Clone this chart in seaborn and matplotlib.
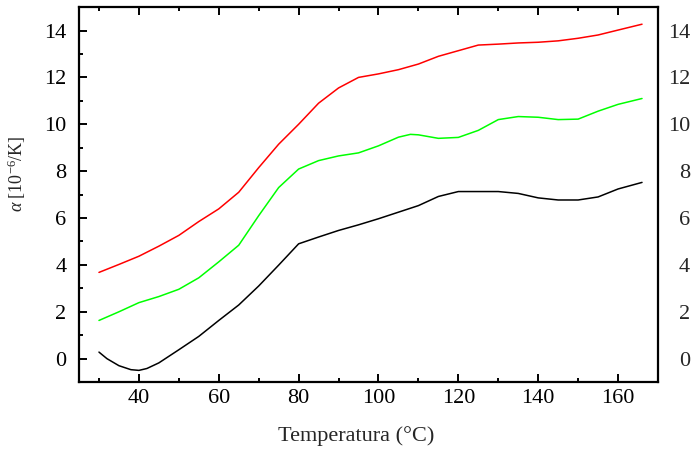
import matplotlib
matplotlib.use("Agg")
import matplotlib.pyplot as plt
import seaborn as sns
import numpy as np
import pandas as pd
from matplotlib.ticker import MultipleLocator

# ---- data ----
temp_red = [30, 35, 40, 45, 50, 55, 60, 65, 70, 75, 80, 85, 90, 95, 100, 105, 110,
            115, 120, 125, 130, 135, 140, 145, 150, 155, 160, 166]
alpha_red = [3.68, 4.02, 4.37, 4.80, 5.26, 5.85, 6.39, 7.10, 8.15, 9.15, 10.0, 10.9,
             11.55, 12.0, 12.15, 12.33, 12.57, 12.9, 13.14, 13.38, 13.42, 13.47, 13.5,
             13.56, 13.67, 13.81, 14.02, 14.27]

temp_green = [30, 35, 40, 45, 50, 55, 60, 65, 70, 75, 80, 85, 90, 95, 100, 105, 108,
              110, 115, 120, 125, 130, 135, 140, 145, 150, 155, 160, 166]
alpha_green = [1.63, 2.0, 2.39, 2.65, 2.96, 3.45, 4.13, 4.84, 6.1, 7.3, 8.09, 8.45,
               8.65, 8.78, 9.08, 9.45, 9.57, 9.55, 9.40, 9.44, 9.74, 10.2, 10.33, 10.3,
               10.2, 10.22, 10.56, 10.85, 11.1]

temp_black = [30, 32, 35, 38, 40, 42, 45, 50, 55, 60, 65, 70, 75, 80, 85, 90, 95, 100,
              105, 110, 115, 120, 125, 130, 135, 140, 145, 150, 155, 160, 166]
alpha_black = [0.28, 0.0, -0.3, -0.47, -0.5, -0.42, -0.18, 0.38, 0.95, 1.63, 2.29, 3.1,
               3.99, 4.9, 5.19, 5.47, 5.71, 5.97, 6.25, 6.53, 6.92, 7.13, 7.13, 7.13,
               7.05, 6.86, 6.77, 6.77, 6.9, 7.24, 7.52]

xticks = [40, 60, 80, 100, 120, 140, 160]
yticks = [0, 2, 4, 6, 8, 10, 12, 14]

sns.set_style("ticks")
plt.rcParams["font.family"] = ["Liberation Serif", "DejaVu Serif"]
plt.rcParams["mathtext.fontset"] = "custom"
plt.rcParams["mathtext.rm"] = "Liberation Serif"
plt.rcParams["mathtext.it"] = "Liberation Serif:italic"

fig = plt.figure(figsize=(6.93, 4.49), dpi=100)
ax = fig.add_axes([0.114, 0.149, 0.8355, 0.8352])

for t, a, c in [(temp_red, alpha_red, "#ff0000"),
                (temp_green, alpha_green, "#00ff00"),
                (temp_black, alpha_black, "#000000")]:
    df = pd.DataFrame({"T": t, "alpha": a})
    sns.lineplot(data=df, x="T", y="alpha", color=c, linewidth=1.1, ax=ax)

ax.set_xlim(25, 170)
ax.set_ylim(-1, 15)
ax.set_xticks(xticks)
ax.set_yticks(yticks)
ax.xaxis.set_minor_locator(MultipleLocator(10))
ax.yaxis.set_minor_locator(MultipleLocator(1))

for s in ax.spines.values():
    s.set_visible(True)
    s.set_linewidth(1.6)
    s.set_color("black")

ax.tick_params(axis="both", which="both", direction="in", top=True, right=True,
               labelsize=16, width=1.4, color="black", labelcolor="black")
ax.tick_params(axis="both", which="major", length=5.5)
ax.tick_params(axis="both", which="minor", length=3)
ax.tick_params(axis="x", pad=5)
ax.tick_params(axis="y", pad=9)

# right-hand labels (right aligned, as in the reference)
ax2 = ax.twinx()
ax2.set_ylim(ax.get_ylim())
ax2.set_yticks(yticks)
ax2.tick_params(axis="y", which="both", length=0, labelsize=16, pad=23)
for lbl in ax2.get_yticklabels():
    lbl.set_horizontalalignment("right")
for s in ax2.spines.values():
    s.set_visible(False)

ax.set_xlabel("Temperatura (°C)", fontsize=16)
ax.xaxis.set_label_coords(0.478, -0.118)
ax.set_ylabel(r"$\alpha$ [10$^{-6}$/K]", fontsize=13)
ax.yaxis.set_label_coords(-0.088, 0.557)

fig.savefig("out.png", dpi=100)
